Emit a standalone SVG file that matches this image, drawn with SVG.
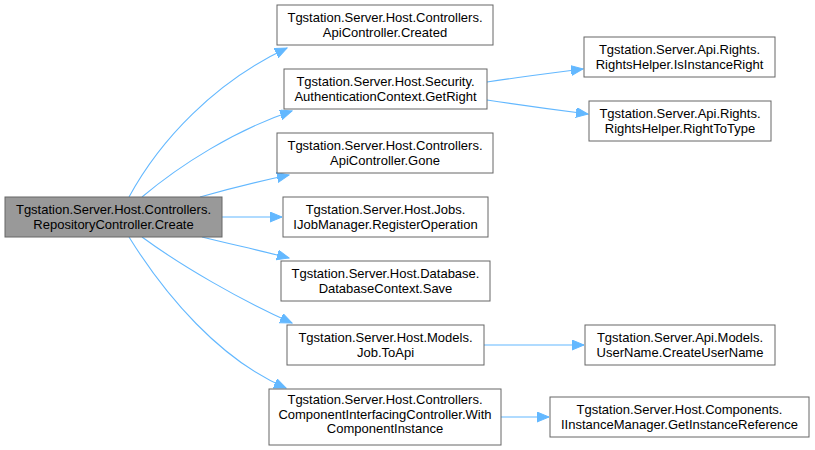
<svg xmlns="http://www.w3.org/2000/svg" width="815" height="450" viewBox="0 0 815 450">
<style>
.n rect{fill:#ffffff;stroke:#666666;stroke-width:1}
.n.cur rect{fill:#999999}
.n text{font-family:"Liberation Sans",Arial,Helvetica,sans-serif;font-size:13px;fill:#000000;text-anchor:middle}
.e path{fill:none;stroke:#63b8ff;stroke-width:1.1}
</style>
<defs>
<marker id="ah" markerUnits="userSpaceOnUse" markerWidth="13" markerHeight="11" refX="12" refY="5" orient="auto">
<path d="M0,0 L12,5 L0,10 z" fill="#63b8ff" stroke="#63b8ff"/>
</marker>
</defs>
<rect width="815" height="450" fill="#ffffff"/>
<g id="edges" class="e">
<path d="M129,197 C160,140 215,82 287,48" marker-end="url(#ah)"/>
<path d="M142,197 C180,165 235,130 292,111" marker-end="url(#ah)"/>
<path d="M200,197 C228,189 260,181 289,175" marker-end="url(#ah)"/>
<path d="M222,217 L282,217" marker-end="url(#ah)"/>
<path d="M202,237 C230,244 262,251 289,258" marker-end="url(#ah)"/>
<path d="M142,237 C180,265 240,300 292,323" marker-end="url(#ah)"/>
<path d="M129,237 C165,295 220,360 286,388" marker-end="url(#ah)"/>
<path d="M487,82 C520,77 552,73 583,69" marker-end="url(#ah)"/>
<path d="M487,100 C520,105 556,110 588,114" marker-end="url(#ah)"/>
<path d="M484,345 L584,345" marker-end="url(#ah)"/>
<path d="M501,417 L549,417" marker-end="url(#ah)"/>
</g>
<g id="node_create" class="n cur">
<rect x="5" y="197" width="217" height="40"/>
<text x="113.5" y="214">Tgstation.Server.Host.Controllers.</text>
<text x="113.5" y="228.5">RepositoryController.Create</text>
</g>
<g id="node_created" class="n">
<rect x="277" y="5" width="216" height="40"/>
<text x="385" y="22">Tgstation.Server.Host.Controllers.</text>
<text x="385" y="36.5">ApiController.Created</text>
</g>
<g id="node_getright" class="n">
<rect x="284" y="69" width="203" height="40"/>
<text x="385.5" y="86">Tgstation.Server.Host.Security.</text>
<text x="385.5" y="100.5">AuthenticationContext.GetRight</text>
</g>
<g id="node_gone" class="n">
<rect x="277" y="133" width="216" height="40"/>
<text x="385" y="150">Tgstation.Server.Host.Controllers.</text>
<text x="385" y="164.5">ApiController.Gone</text>
</g>
<g id="node_regop" class="n">
<rect x="283" y="197" width="205" height="40"/>
<text x="385.5" y="214">Tgstation.Server.Host.Jobs.</text>
<text x="385.5" y="228.5">IJobManager.RegisterOperation</text>
</g>
<g id="node_save" class="n">
<rect x="281" y="261" width="209" height="40"/>
<text x="385.5" y="278">Tgstation.Server.Host.Database.</text>
<text x="385.5" y="292.5">DatabaseContext.Save</text>
</g>
<g id="node_toapi" class="n">
<rect x="287" y="325" width="197" height="40"/>
<text x="385.5" y="342">Tgstation.Server.Host.Models.</text>
<text x="385.5" y="356.5">Job.ToApi</text>
</g>
<g id="node_wci" class="n">
<rect x="269" y="389" width="232" height="56"/>
<text x="385" y="404">Tgstation.Server.Host.Controllers.</text>
<text x="385" y="418.5">ComponentInterfacingController.With</text>
<text x="385" y="433">ComponentInstance</text>
</g>
<g id="node_isinstanceright" class="n">
<rect x="584" y="37" width="191" height="40"/>
<text x="679.5" y="54">Tgstation.Server.Api.Rights.</text>
<text x="679.5" y="68.5">RightsHelper.IsInstanceRight</text>
</g>
<g id="node_righttotype" class="n">
<rect x="589" y="101" width="182" height="40"/>
<text x="680" y="118">Tgstation.Server.Api.Rights.</text>
<text x="680" y="132.5">RightsHelper.RightToType</text>
</g>
<g id="node_createusername" class="n">
<rect x="585" y="325" width="190" height="40"/>
<text x="680" y="342">Tgstation.Server.Api.Models.</text>
<text x="680" y="356.5">UserName.CreateUserName</text>
</g>
<g id="node_gir" class="n">
<rect x="550" y="397" width="259" height="40"/>
<text x="679.5" y="414">Tgstation.Server.Host.Components.</text>
<text x="679.5" y="428.5">IInstanceManager.GetInstanceReference</text>
</g>
</svg>
